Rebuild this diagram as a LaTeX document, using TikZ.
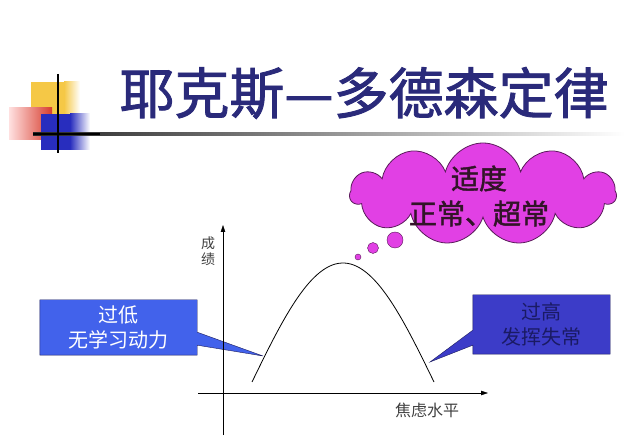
\documentclass[tikz,border=0pt]{standalone}
\usepackage{fontspec}
\newfontfamily\cjk{Noto Sans CJK SC}
\newfontfamily\cjkb[FakeBold=1.6]{Noto Sans CJK SC}
\usetikzlibrary{shapes.symbols,backgrounds,arrows.meta,calc}
\definecolor{titblue}{RGB}{42,42,122}
\definecolor{logoyel}{RGB}{245,200,70}
\definecolor{logored}{RGB}{215,60,45}
\definecolor{logoblu}{RGB}{40,45,190}
\definecolor{cldfill}{RGB}{225,64,228}
\definecolor{cldline}{RGB}{90,26,90}
\definecolor{lowfill}{RGB}{66,98,235}
\definecolor{highfill}{RGB}{60,60,200}
\definecolor{boxline}{RGB}{28,28,92}
\definecolor{hightxt}{RGB}{26,26,100}
\definecolor{cldtxt}{RGB}{50,20,40}

\begin{document}
\begin{tikzpicture}
      [x=1pt,y=-1pt
    % these styles set the look of the callouts and labels
      ,ttl/.style={text=titblue,font=\cjkb\fontsize{55}{60}\selectfont}
      ,lbox/.style={minimum width=157pt,minimum height=55pt,align=center,text=white,font=\cjk\fontsize{20}{25}\selectfont}
      ,hbox/.style={minimum width=137pt,minimum height=59pt,align=center,text=hightxt,font=\cjk\fontsize{20}{25}\selectfont}
      ,lfil/.style={draw=boxline,fill=lowfill,thin}
      ,hfil/.style={draw=boxline,fill=highfill,thin}
      ,bub/.style={draw=cldline,fill=cldfill,thin}
      ,axlab/.style={text=black!75,align=center,font=\cjk\fontsize{14}{16}\selectfont}
      ]
    % page size
        \useasboundingbox (0,0) rectangle (640,446);

    % logo in the corner
        \fill[logoyel] (31,82) rectangle (64,114);
        \shade[left color=logoyel,right color=white] (64,82) rectangle (80,114);
        \shade[left color=red!12,right color=logored] (9,108) rectangle (52,140);
        \fill[logoblu] (41,114) rectangle (70,150);
        \shade[left color=logoblu,right color=white] (70,114) rectangle (90,150);
        \shade[left color=black!85,right color=white] (33,132.5) rectangle (625,135.5);
        \draw[line width=2pt] (58,74) -- (58,153);
        \draw[line width=2pt] (33,134) -- (100,134);

        \node[ttl] (title) at (364,93) {耶克斯—多德森定律};

    % axes
        \coordinate (ybot) at (223,435);
        \coordinate (ytop) at (223,225);
        \coordinate (xlft) at (198,393);
        \coordinate (xrgt) at (488,393);
        \draw[thin,-{Triangle[length=7pt,width=4.5pt]}] (ybot) -- (ytop);
        \draw[thin,-{Triangle[length=7pt,width=4.5pt]}] (xlft) -- (xrgt);
        \node[axlab] (score) at (208,251) {成\\绩};
        \node[axlab,font=\cjk\fontsize{16}{18}\selectfont] (anx) at (427,410) {焦虑水平};

    % the curve
        \draw[line width=.8pt] plot[domain=-91:91,samples=60,smooth]
            ({343+\x},{263+119*(1-cos(\x*90/91))});

    % thought cloud
        \node[cloud,cloud puffs=11,cloud ignores aspect,draw=cldline,fill=cldfill,line width=.8pt
             ,minimum width=266pt,minimum height=102pt] (thought) at (483,194) {};
        \node[align=center,text=cldtxt,font=\cjkb\fontsize{28}{35}\selectfont]
            (thinktxt) at (479,196) {适度\\正常、超常};
        \filldraw[bub] (395,240) circle (8pt);
        \filldraw[bub] (373,248) circle (5.5pt);
        \filldraw[bub] (358,257) circle (3pt);

    % callouts
        \node[lbox] (low) at (118.5,327.5) {过低\\无学习动力};
        \coordinate (lowtip) at (263,356);
        \node[hbox] (high) at (541.5,324.5) {过高\\发挥失常};
        \coordinate (hightip) at (430,362);
        \begin{scope}[on background layer]
        \filldraw[lfil] (low.north west) -- (low.north east) -- ($(low.south east)+(0,-23)$)
            -- (lowtip) -- ($(low.south east)+(0,-10)$) -- (low.south east) -- (low.south west) -- cycle;
        \filldraw[hfil] (high.north west) -- (high.north east) -- (high.south east) -- (high.south west)
            -- ($(high.south west)+(0,-9)$) -- (hightip) -- ($(high.south west)+(0,-24)$) -- cycle;
        \end{scope}
       \end{tikzpicture}
\end{document}
